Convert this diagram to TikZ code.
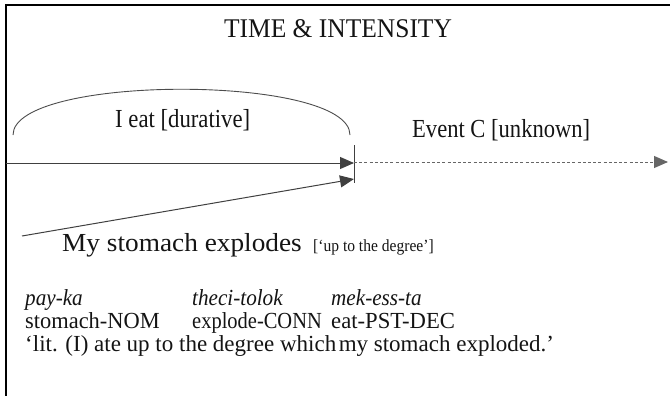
\documentclass[tikz,border=0pt]{standalone}
\usepackage{fontspec}
\usepackage{graphicx}
\setmainfont{Liberation Serif}
\usetikzlibrary{arrows.meta}
% horizontal squeeze or stretch of a piece of text
\newcommand{\hsq}[2]{\scalebox{#1}[1]{#2}}
\begin{document}
\begin{tikzpicture}[x=1pt,y=-1pt,
  txt/.style={inner sep=0pt, anchor=base west, text=black!92,
    font=\fontsize{26}{30}\selectfont},
  gloss/.style={txt, font=\fontsize{23}{27}\selectfont},
  frameline/.style={line width=2pt, black},
  timeline/.style={line width=1pt, black!75,
    -{Triangle[length=14pt,width=12pt]}},
  future/.style={line width=1pt, black!60, dash pattern=on 3pt off 2.2pt,
    -{Triangle[length=14pt,width=12pt]}}
]
\useasboundingbox (0,0) rectangle (670,396);

% frame (top and left edges)
\draw[frameline] (6,396) -- (6,5) -- (670,5);

% heading
\node[txt, anchor=base, font=\fontsize{27}{31}\selectfont] (title) at (338,38)
  {\hsq{0.944}{TIME \& INTENSITY}};

% reference points on the time line
\coordinate (origin) at (6,163);
\coordinate (now) at (354,163);
\coordinate (nowlow) at (354,179);
\coordinate (stomachstart) at (22,236);
\coordinate (tickTop) at (354,145);
\coordinate (tickBot) at (354,183);
\coordinate (arcL) at (13,135);
\coordinate (arcR) at (350,135);
\coordinate (farend) at (668,162);

% durative span of eating
\draw[line width=0.9pt, black!70] (arcL) .. controls (13,74) and (350,74) .. (arcR);
\node[txt] (dur) at (115,128) {\hsq{0.874}{I eat [durative]}};

% time lines
\draw[timeline] (origin) -- (now);
\draw[timeline] (stomachstart) -- (nowlow);
\draw[line width=1pt, black!75] (tickTop) -- (tickBot);
\draw[future] (354,162) -- (farend);
\node[txt] (evc) at (412,138) {\hsq{0.868}{Event C [unknown]}};

% second event
\node[txt] (stom) at (62,251) {\hsq{1.05}{My stomach explodes}};
\node[txt, font=\fontsize{17}{20}\selectfont] (degree) at (313,251)
  {\hsq{0.915}{[‘up to the degree’]}};

% gloss
\node[gloss] (g1) at (25,305) {\hsq{0.92}{\itshape pay-ka}};
\node[gloss] (g2) at (192,305) {\hsq{0.92}{\itshape theci-tolok}};
\node[gloss] (g3) at (331,305) {\hsq{0.92}{\itshape mek-ess-ta}};
\node[gloss] (m1) at (25,328) {\hsq{0.975}{stomach-NOM}};
\node[gloss] (m2) at (192,328) {\hsq{0.89}{explode-CONN}};
\node[gloss] (m3) at (331,328) {\hsq{0.985}{eat-PST-DEC}};
\node[gloss] (tr) at (25,351)
  {‘lit. (I) ate up to the degree which\hspace{2.5pt}my stomach exploded.’};
\end{tikzpicture}
\end{document}
